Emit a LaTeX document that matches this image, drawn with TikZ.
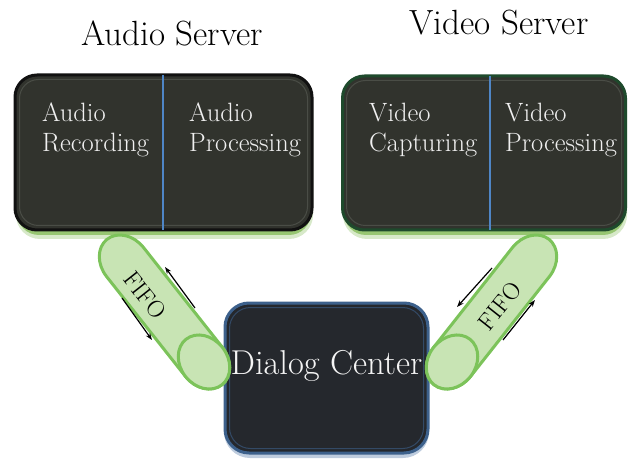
\documentclass[tikz,border=0pt]{standalone}
\usepackage{fontspec}
\usetikzlibrary{arrows.meta,calc}
\definecolor{srvfill}{HTML}{31332D}
\definecolor{dlgfill}{HTML}{25282D}
\definecolor{audborder}{HTML}{111111}
\definecolor{vidborder}{HTML}{1E4A2C}
\definecolor{dlgborder}{HTML}{3D618C}
\definecolor{glowgreen}{HTML}{8CC063}
\definecolor{glowblue}{HTML}{6F8FB5}
\definecolor{pillfill}{HTML}{C8E4B4}
\definecolor{pillborder}{HTML}{7CC35A}
\definecolor{divblue}{HTML}{4F86C6}
\definecolor{bevel}{HTML}{4A4D46}
\begin{document}
\begin{tikzpicture}[x=1pt,y=1pt,
  srvbox/.style={rounded corners=22pt, line width=3pt, fill=srvfill, inner sep=0pt},
  dlgbox/.style={rounded corners=24pt, line width=3pt, fill=dlgfill, draw=dlgborder, inner sep=0pt},
  title/.style={font=\fontsize{35}{40}\selectfont, text=black, inner sep=0pt},
  intext/.style={font=\fontsize{26.5}{30}\selectfont, text=white!94!black, inner sep=0pt, anchor=base west},
  dlgtext/.style={font=\fontsize{34.5}{40}\selectfont, text=white!96!black, inner sep=0pt},
  fifotext/.style={font=\fontsize{24}{28}\selectfont, text=black, inner sep=0pt},
  pill/.style={fill=pillfill, draw=pillborder, line width=3pt},
  divider/.style={draw=divblue, line width=1.4pt},
  flow/.style={draw=black, line width=1.2pt, -{Stealth[length=7pt,width=5pt]}},
  bevelline/.style={draw=bevel, line width=1pt}
]
\useasboundingbox (0,0) rectangle (628,466);

% titles
\node[title] (audiotitle) at (172,433) {Audio Server};
\node[title] (videotitle) at (499,443) {Video Server};

% glows
\fill[glowgreen, opacity=0.35, rounded corners=24pt] (16,227) rectangle (313,380);
\fill[glowgreen, opacity=0.85, rounded corners=22pt] (17,231) rectangle (311,380);
\fill[glowgreen, opacity=0.35, rounded corners=24pt] (343,227) rectangle (627,380);
\fill[glowgreen, opacity=0.85, rounded corners=22pt] (344,231) rectangle (625,380);
\fill[glowblue, opacity=0.45, rounded corners=26pt] (224,8) rectangle (429,150);

% server boxes
\node[srvbox, draw=audborder, minimum width=297pt, minimum height=155pt] (audio) at (163.5,313.5) {};
\node[srvbox, draw=vidborder, minimum width=283pt, minimum height=154pt] (video) at (484,313) {};
\draw[bevelline, rounded corners=19pt] (19.5,240.5) rectangle (307.5,386.5);
\draw[bevelline, rounded corners=19pt] (346.5,240.5) rectangle (621.5,385.5);
\draw[divider] ($(audio.north)+(-0.5,-1.5)$) -- ($(audio.south)+(-0.5,1.5)$);
\draw[divider] ($(video.north)+(6,-1.5)$) -- ($(video.south)+(6,1.5)$);

% server texts
\node[intext] (ar1) at (42,344) {Audio};
\node[intext] (ar2) at (42,314) {Recording};
\node[intext] (ap1) at (189,344) {Audio};
\node[intext] (ap2) at (189,314) {Processing};
\node[intext] (vc1) at (369,344) {Video};
\node[intext] (vc2) at (369,314) {Capturing};
\node[intext] (vp1) at (505,344) {Video};
\node[intext] (vp2) at (505,314) {Processing};

% dialog center
\node[dlgbox, minimum width=203pt, minimum height=150pt] (dialog) at (326.5,88) {};
\draw[draw=dlgborder!60!dlgfill, line width=1pt, rounded corners=21pt] (229.5,17.5) rectangle (423.5,158.5);

% left pill
\coordinate (pillLbot) at (204,104);
\begin{scope}[shift={(pillLbot)}, rotate=128.3]
  \draw[pill] (0,23.5) -- (127.4,23.5) arc[start angle=90, end angle=-90, x radius=29, y radius=23.5]
     -- (0,-23.5) arc[start angle=-90, end angle=-270, x radius=29, y radius=23.5] -- cycle;
  \draw[pill] (0,0) ellipse[x radius=29, y radius=23.5];
\end{scope}

% right pill
\coordinate (pillRbot) at (452,104);
\begin{scope}[shift={(pillRbot)}, rotate=51.7]
  \draw[pill] (0,23.5) -- (127.4,23.5) arc[start angle=90, end angle=-90, x radius=29, y radius=23.5]
     -- (0,-23.5) arc[start angle=-90, end angle=-270, x radius=29, y radius=23.5] -- cycle;
  \draw[pill] (0,0) ellipse[x radius=29, y radius=23.5];
\end{scope}

\node[dlgtext] (dlgtxt) at (dialog.center) [yshift=12pt] {Dialog Center};

% FIFO labels
\node[fifotext, rotate=-51.7] (fifoL) at (145,171) {FIFO};
\node[fifotext, rotate=51.7] (fifoR) at (500,160) {FIFO};

% arrows
\coordinate (a1s) at (195,158);
\coordinate (a1e) at (165,199);
\coordinate (a2s) at (122,168);
\coordinate (a2e) at (152,126);
\coordinate (a3s) at (492,198);
\coordinate (a3e) at (457,159);
\coordinate (a4s) at (503,126);
\coordinate (a4e) at (535,166);
\draw[flow] (a1s) -- (a1e);
\draw[flow] (a2s) -- (a2e);
\draw[flow] (a3s) -- (a3e);
\draw[flow] (a4s) -- (a4e);
\end{tikzpicture}
\end{document}
